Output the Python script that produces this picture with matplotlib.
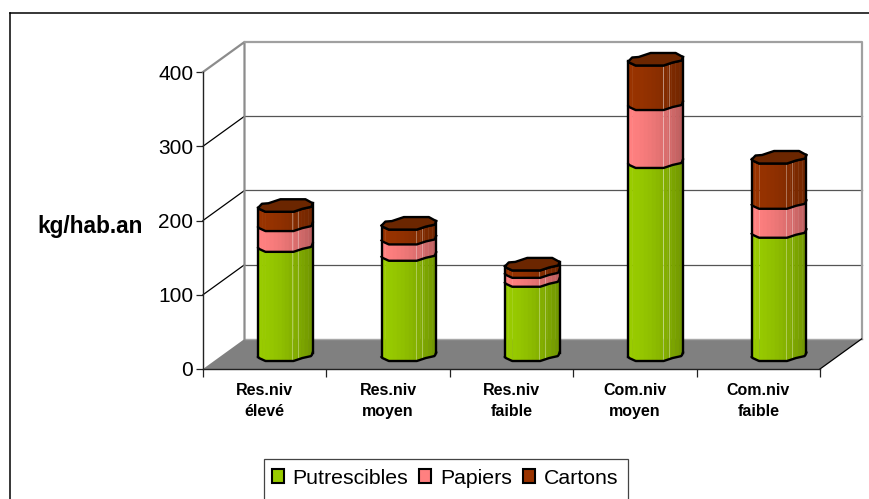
import numpy as np
import matplotlib
matplotlib.use("Agg")
import matplotlib.pyplot as plt
from matplotlib.patches import Patch, Polygon, Rectangle
from matplotlib.colors import to_rgb

plt.rcParams["font.family"] = ["Liberation Sans", "DejaVu Sans"]

categories = ["Res.niv\nélevé", "Res.niv\nmoyen", "Res.niv\nfaible", "Com.niv\nmoyen", "Com.niv\nfaible"]
series_names = ["Putrescibles", "Papiers", "Cartons"]
putrescibles = [147, 135, 100, 260, 166]
papiers = [28, 22, 12, 78, 39]
cartons = [26, 20, 10, 60, 61]
y_ticks = [0, 100, 200, 300, 400]

colors = ["#99CC00", "#FF8080", "#993300"]
cap_color = "#6B2600"

W, H = 869, 499
fig = plt.figure(figsize=(W / 100, H / 100), dpi=100)
ax = fig.add_axes([203 / W, 1 - 369 / H, 617 / W, 297 / H])
ax.set_xlim(0, 5)
ax.set_ylim(0, 400)
ax.patch.set_alpha(0)

# pixel sizes in data units
ux = 5 / 617
uy = 400 / 297
dx = 41.5 * ux
dy = 30 * uy

# outer frame, only top and left show
fig.add_artist(plt.Line2D([10 / W, 10 / W], [0, 1 - 12.5 / H], color="black", lw=1.1))
fig.add_artist(plt.Line2D([10 / W, 1], [1 - 12.5 / H, 1 - 12.5 / H], color="black", lw=1.1))

# floor and walls
ax.add_patch(Polygon([(0, 0), (5, 0), (5 + dx, dy), (dx, dy)], fc="#808080", ec="none", zorder=1, clip_on=False))
ax.plot([dx, 5 + dx], [dy, dy], color="#a8a8a8", lw=1, zorder=2, clip_on=False)
for v in y_ticks[1:4]:
    ax.plot([dx, 5 + dx], [v + dy, v + dy], color="#555555", lw=0.9, zorder=2, clip_on=False)
    ax.plot([0, dx], [v, v + dy], color="black", lw=0.9, zorder=2, clip_on=False)
ax.plot([0, dx, dx], [400, 400 + dy, dy], color="#8c8c8c", lw=1.6, zorder=2, clip_on=False)
ax.plot([dx, 5 + dx, 5 + dx], [400 + dy, 400 + dy, dy], color="#a0a0a0", lw=1.6, zorder=2, clip_on=False)
ax.plot([5, 5 + dx], [0, dy], color="black", lw=0.9, zorder=2, clip_on=False)

# cross section of the columns, pixels above the front of the base
front_x = np.array([-27.3, -26.5, -20, 8, 17, 26, 27.3])
front_y = np.array([4, 3, 0, 0, 3, 5, 8.5])
back_x = np.array([-27.3, -23.5, -17, -5, 20, 27.3])
back_y = np.array([4, 8, 8.5, 12.5, 12.5, 8.5])
strips = np.linspace(-27.3, 27.3, 15)
edge_x = np.linspace(-27.3, 27.3, 60)
edge_y = np.interp(edge_x, front_x, front_y) * uy


def shade(color, t):
    f = 1 - 0.27 * t ** 1.6
    return tuple(c * f for c in to_rgb(color))


for i in range(len(categories)):
    cx = i + 0.5 + dx / 2
    base = 8 * uy
    z = 5 + i
    bottom = base
    for values, color in zip([putrescibles, papiers, cartons], colors):
        top = bottom + values[i]
        for k in range(len(strips) - 1):
            a, b = strips[k], strips[k + 1]
            ya, yb = np.interp([a, b], front_x, front_y) * uy
            pts = [(cx + a * ux, bottom + ya), (cx + b * ux, bottom + yb),
                   (cx + b * ux, top + yb), (cx + a * ux, top + ya)]
            t = (k + 0.5) / (len(strips) - 1)
            ax.add_patch(Polygon(pts, fc=shade(color, t), ec=shade(color, t), lw=0.3, zorder=z, clip_on=False))
        for lx in [7, 13]:
            ly = np.interp(lx, front_x, front_y) * uy
            ax.plot([cx + lx * ux] * 2, [bottom + ly, top + ly], color="white", alpha=0.35, lw=0.7, zorder=z, clip_on=False)
        if bottom == base:
            ax.plot(cx + edge_x * ux, base + edge_y, color="black", lw=1.7, zorder=z + 0.5, clip_on=False)
        ax.plot(cx + edge_x * ux, top + edge_y, color="black", lw=1.7, zorder=z + 0.6, clip_on=False)
        bottom = top
    # cap of the last segment
    cap_front = list(zip(cx + front_x * ux, bottom + front_y * uy))
    cap_back = list(zip(cx + back_x[::-1] * ux, bottom + back_y[::-1] * uy))
    ax.add_patch(Polygon(cap_front + cap_back, fc=cap_color, ec="black", lw=1.7, zorder=z + 0.7, clip_on=False, joinstyle="round"))
    for side in [0, -1]:
        ax.plot([cx + front_x[side] * ux] * 2, [base + front_y[side] * uy, bottom + front_y[side] * uy],
                color="black", lw=1.7, zorder=z + 0.6, clip_on=False)

# axes
for s in ["top", "right"]:
    ax.spines[s].set_visible(False)
for s in ["left", "bottom"]:
    ax.spines[s].set_color("#222222")
    ax.spines[s].set_linewidth(1.0)
    ax.spines[s].set_zorder(3)
ax.set_yticks(y_ticks)
ax.tick_params(axis="y", length=5, width=0.9, labelsize=15, pad=2, color="#222222")
ax.set_xticks(range(6))
ax.set_xticklabels([])
ax.tick_params(axis="x", which="major", length=5.5, width=0.9, color="#222222")
ax.set_xticks(np.arange(len(categories)) + 0.5, minor=True)
ax.set_xticklabels(categories, minor=True, fontsize=11.5, fontweight="bold", linespacing=1.55)
ax.tick_params(axis="x", which="minor", length=0, pad=10)

fig.text(90 / W, 1 - 226 / H, "kg/hab.an", fontsize=16.3, fontweight="bold", ha="center", va="center")

# legend box runs off the bottom of the picture
fig.add_artist(Rectangle((264 / W, -0.05), 364 / W, 0.05 + 1 - 459 / H, transform=fig.transFigure,
                         fc="white", ec="#444444", lw=0.9))
handles = [Patch(fc=c, ec="black", lw=1.5, label=n) for c, n in zip(colors, series_names)]
fig.legend(handles=handles, loc="center left", bbox_to_anchor=(271.5 / W, 1 - 478 / H), ncol=3, frameon=False,
           fontsize=15.3, borderpad=0, borderaxespad=0, handlelength=0.58, handleheight=0.58,
           handletextpad=0.42, columnspacing=0.5)

fig.savefig("out.png", dpi=100)
